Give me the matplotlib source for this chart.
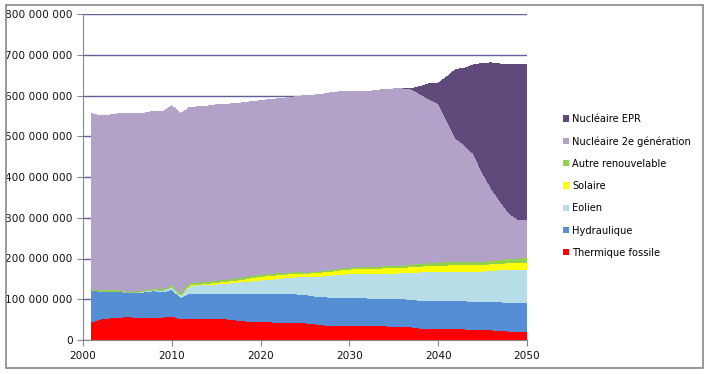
import matplotlib.pyplot as plt
from matplotlib.patches import Rectangle
from matplotlib.ticker import FuncFormatter

# annual production by source (millions), 2001-2050
years = list(range(2001, 2051))

thermique = [44, 52, 54, 54, 59, 54, 54, 54, 56, 59,
             52, 54, 52, 52, 52, 52, 50, 47, 46, 46,
             45, 42, 42, 42, 42, 40, 37, 36, 35, 35,
             35, 35, 35, 35, 32, 32, 32, 29, 27, 27,
             27, 27, 27, 25, 25, 25, 23, 22, 22, 22]

hydraulique = [77, 68, 66, 66, 57, 62, 64, 67, 62, 65,
               53, 61, 63, 63, 63, 63, 65, 68, 69, 67,
               68, 71, 71, 71, 70, 68, 69, 69, 70, 70,
               70, 68, 68, 67, 69, 69, 68, 68, 69, 69,
               69, 69, 69, 70, 69, 69, 71, 69, 69, 69]

eolien = [0, 0, 0, 0, 1, 1, 2, 2, 4, 7,
          5, 19, 20, 21, 22, 24, 26, 28, 30, 34,
          36, 38, 40, 42, 43, 48, 51, 54, 56, 58,
          59, 61, 61, 62, 63, 64, 66, 70, 72, 72,
          73, 73, 73, 74, 75, 77, 78, 82, 83, 83]

solaire = [0, 0, 0, 0, 0, 0, 0, 0, 0, 0.5,
           1, 1, 2, 3, 4, 5, 5, 6, 8, 9,
           9, 9, 9, 9, 8, 9, 10, 10, 11, 11,
           12, 12, 12, 13, 13, 13, 14, 14, 15, 15,
           15, 16, 16, 16, 16, 16, 16, 17, 17, 17]

autre = [3, 3, 3, 3, 3, 3, 4, 4, 4, 5,
         5, 5, 5, 5, 5, 5, 5, 5, 5, 5,
         5, 5, 4, 4, 3, 3, 3, 4, 4, 4,
         4, 4, 5, 5, 6, 6, 6, 7, 7, 8,
         8, 8, 8, 8, 8, 8, 9, 10, 10, 11]

nucleaire_2g = [431, 427, 429, 432, 435, 435, 433, 434, 434, 438,
                439, 431, 430, 430, 431, 429, 429, 428, 427, 426,
                427, 427, 428, 429, 434, 433, 433, 434, 433, 431,
                430, 430, 431, 433, 433, 432, 430, 416, 401, 390,
                346, 302, 285, 264, 217, 177, 143, 111, 95, 93]

nucleaire_epr = [0] * 36 + [1, 18, 38, 49, 108, 169, 189, 218, 269, 308,
                            337, 366, 381, 382]

labels = ["Thermique fossile", "Hydraulique", "Eolien", "Solaire",
          "Autre renouvelable", "Nucléaire 2e génération", "Nucléaire EPR"]
colors = ["#FF0000", "#558ED5", "#B7DEE8", "#FFFF00",
          "#92D050", "#B3A2C7", "#604A7B"]

series = [thermique, hydraulique, eolien, solaire, autre, nucleaire_2g, nucleaire_epr]
series = [[v * 1e6 for v in s] for s in series]

fig = plt.figure(figsize=(7.07, 3.74), dpi=100)
fig.patches.append(Rectangle((6 / 707, 6 / 374), 697 / 707, 363 / 374,
                             transform=fig.transFigure, fill=False,
                             edgecolor="#888888", linewidth=1.2))

ax = fig.add_axes([83 / 707, 34 / 374, 444 / 707, 326 / 374])
polys = ax.stackplot(years, *series, colors=colors, labels=labels,
                     linewidth=0, antialiased=False)

ax.set_xlim(2000, 2050)
ax.set_ylim(0, 800e6)
ax.set_xticks(range(2000, 2051, 10))
ax.set_yticks(range(0, 800000001, 100000000))
ax.yaxis.set_major_formatter(FuncFormatter(lambda v, p: f"{int(v):,}".replace(",", " ")))
ax.grid(axis="y", color="#5E5E99", linewidth=1)
ax.set_axisbelow(True)

for side in ["top", "right"]:
    ax.spines[side].set_visible(False)
for side in ["left", "bottom"]:
    ax.spines[side].set_color("#888888")
ax.tick_params(colors="#888888", labelcolor="#111111", labelsize=7.6, length=4, direction="out")
ax.tick_params(axis="x", pad=4)

handles, lbls = ax.get_legend_handles_labels()
leg = fig.legend(handles[::-1], lbls[::-1], loc="upper left",
                 bbox_to_anchor=(554 / 707, 1 - 105 / 374), frameon=False,
                 fontsize=7.1, handlelength=0.6, handleheight=0.6,
                 handletextpad=0.35, labelspacing=1.24)

fig.savefig("out.png", dpi=100)
